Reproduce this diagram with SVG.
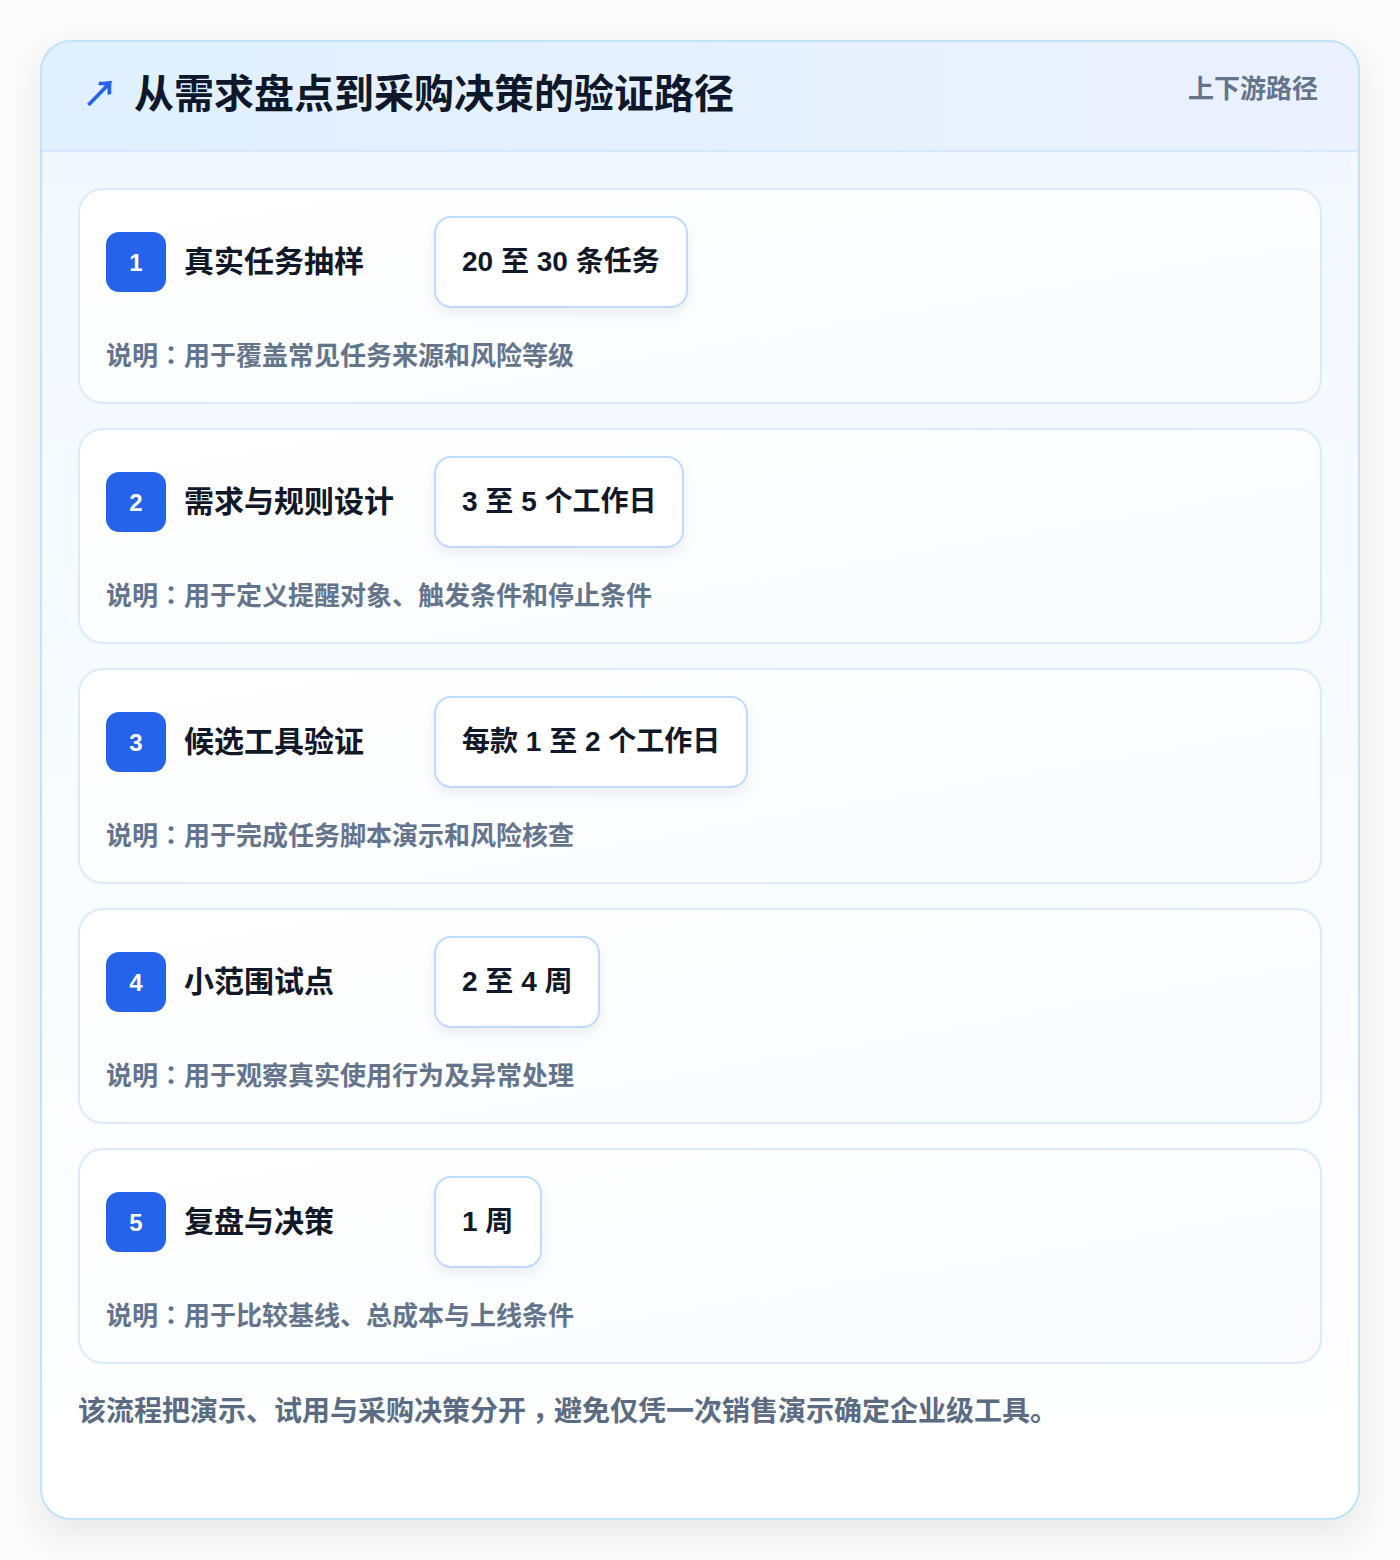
<svg xmlns="http://www.w3.org/2000/svg" width="1400" height="1560" viewBox="0 0 1400 1560">
<defs>
<linearGradient id="hdr" x1="0" y1="0" x2="1" y2="0"><stop offset="0" stop-color="#e0f0fe"/><stop offset="1" stop-color="#ebf1fe"/></linearGradient>
<linearGradient id="body" x1="0" y1="0" x2="0" y2="1"><stop offset="0" stop-color="#f0f8ff"/><stop offset="1" stop-color="#ffffff"/></linearGradient>
<linearGradient id="stepbg" x1="0" y1="0" x2="1" y2="1"><stop offset="0" stop-color="#ffffff"/><stop offset="1" stop-color="#f9fbfd"/></linearGradient>
<filter id="sh" x="-10%" y="-10%" width="120%" height="120%"><feDropShadow dx="0" dy="14" stdDeviation="16" flood-color="#0f172a" flood-opacity="0.08"/></filter>
<filter id="psh" x="-20%" y="-30%" width="140%" height="170%"><feDropShadow dx="0" dy="6" stdDeviation="6" flood-color="#0f172a" flood-opacity="0.06"/></filter>
<clipPath id="cardclip"><rect x="41" y="41" width="1318" height="1478" rx="30"/></clipPath>
<style>
.f{font-family:"Liberation Sans","Noto Sans CJK SC",sans-serif}
.k{font-family:"Liberation Sans","Noto Sans CJK KR","Noto Sans CJK SC",sans-serif}
.t{font-family:"Liberation Sans","Noto Sans CJK TC","Noto Sans CJK SC",sans-serif}
.step{fill:url(#stepbg);stroke:#dbeafe;stroke-width:2}
.badge{fill:#2563eb}
.num{fill:#ffffff;font-size:24px;font-weight:700;text-anchor:middle}
.ttl{fill:#111827;font-size:30px;font-weight:700}
.pill{fill:#ffffff;stroke:#bfdbfe;stroke-width:2}
.ptxt{fill:#111827;font-size:28px;font-weight:700}
.desc{fill:#64748b;font-size:26px;font-weight:700}
</style>
</defs>
<rect width="1400" height="1560" fill="#fbfbfb"/>
<g id="card">
<rect x="41" y="41" width="1318" height="1478" rx="30" fill="url(#body)" filter="url(#sh)"/>
<g clip-path="url(#cardclip)">
<rect x="41" y="41" width="1318" height="110" fill="url(#hdr)"/>
<line x1="41" y1="151" x2="1359" y2="151" stroke="#d6e8fb" stroke-width="2"/>
</g>
<rect x="41" y="41" width="1318" height="1478" rx="30" fill="none" stroke="#bfe3f8" stroke-width="2"/>
<text class="f" x="82" y="107" font-size="36" font-weight="700" fill="#2563eb">↗</text>
<text class="f" x="134" y="108" font-size="40" font-weight="700" fill="#0f172a">从需求盘点到采购决策的验证路径</text>
<text class="f" x="1318" y="98" font-size="26" font-weight="700" fill="#64748b" text-anchor="end">上下游路径</text>
</g>
<g id="step1">
<rect class="step" x="79" y="189" width="1242" height="214" rx="24"/>
<rect class="badge" x="106" y="232" width="60" height="60" rx="13"/>
<text class="f num" x="136" y="271">1</text>
<text class="f ttl" x="184" y="272">真实任务抽样</text>
<rect class="pill" x="435" y="217" width="252" height="90" rx="16" filter="url(#psh)"/>
<text class="f ptxt" x="462" y="271">20 至 30 条任务</text>
<text class="f desc" x="106" y="365">说明<tspan class="k">：</tspan>用于覆盖常见任务来源和风险等级</text>
</g>
<g id="step2">
<rect class="step" x="79" y="429" width="1242" height="214" rx="24"/>
<rect class="badge" x="106" y="472" width="60" height="60" rx="13"/>
<text class="f num" x="136" y="511">2</text>
<text class="f ttl" x="184" y="512">需求与规则设计</text>
<rect class="pill" x="435" y="457" width="248" height="90" rx="16" filter="url(#psh)"/>
<text class="f ptxt" x="462" y="511">3 至 5 个工作日</text>
<text class="f desc" x="106" y="605">说明<tspan class="k">：</tspan>用于定义提醒对象、触发条件和停止条件</text>
</g>
<g id="step3">
<rect class="step" x="79" y="669" width="1242" height="214" rx="24"/>
<rect class="badge" x="106" y="712" width="60" height="60" rx="13"/>
<text class="f num" x="136" y="751">3</text>
<text class="f ttl" x="184" y="752">候选工具验证</text>
<rect class="pill" x="435" y="697" width="312" height="90" rx="16" filter="url(#psh)"/>
<text class="f ptxt" x="462" y="751">每款 1 至 2 个工作日</text>
<text class="f desc" x="106" y="845">说明<tspan class="k">：</tspan>用于完成任务脚本演示和风险核查</text>
</g>
<g id="step4">
<rect class="step" x="79" y="909" width="1242" height="214" rx="24"/>
<rect class="badge" x="106" y="952" width="60" height="60" rx="13"/>
<text class="f num" x="136" y="991">4</text>
<text class="f ttl" x="184" y="992">小范围试点</text>
<rect class="pill" x="435" y="937" width="164" height="90" rx="16" filter="url(#psh)"/>
<text class="f ptxt" x="462" y="991">2 至 4 周</text>
<text class="f desc" x="106" y="1085">说明<tspan class="k">：</tspan>用于观察真实使用行为及异常处理</text>
</g>
<g id="step5">
<rect class="step" x="79" y="1149" width="1242" height="214" rx="24"/>
<rect class="badge" x="106" y="1192" width="60" height="60" rx="13"/>
<text class="f num" x="136" y="1231">5</text>
<text class="f ttl" x="184" y="1232">复盘与决策</text>
<rect class="pill" x="435" y="1177" width="106" height="90" rx="16" filter="url(#psh)"/>
<text class="f ptxt" x="462" y="1231">1 周</text>
<text class="f desc" x="106" y="1325">说明<tspan class="k">：</tspan>用于比较基线、总成本与上线条件</text>
</g>
<g id="connectors"/>
<text id="footer" class="f" x="78" y="1421" font-size="28" font-weight="700" fill="#5b6b82">该流程把演示、试用与采购决策分开<tspan class="t" dy="8">，</tspan><tspan dy="-8">避免仅凭一次销售演示确定企业级工具。</tspan></text>
</svg>
